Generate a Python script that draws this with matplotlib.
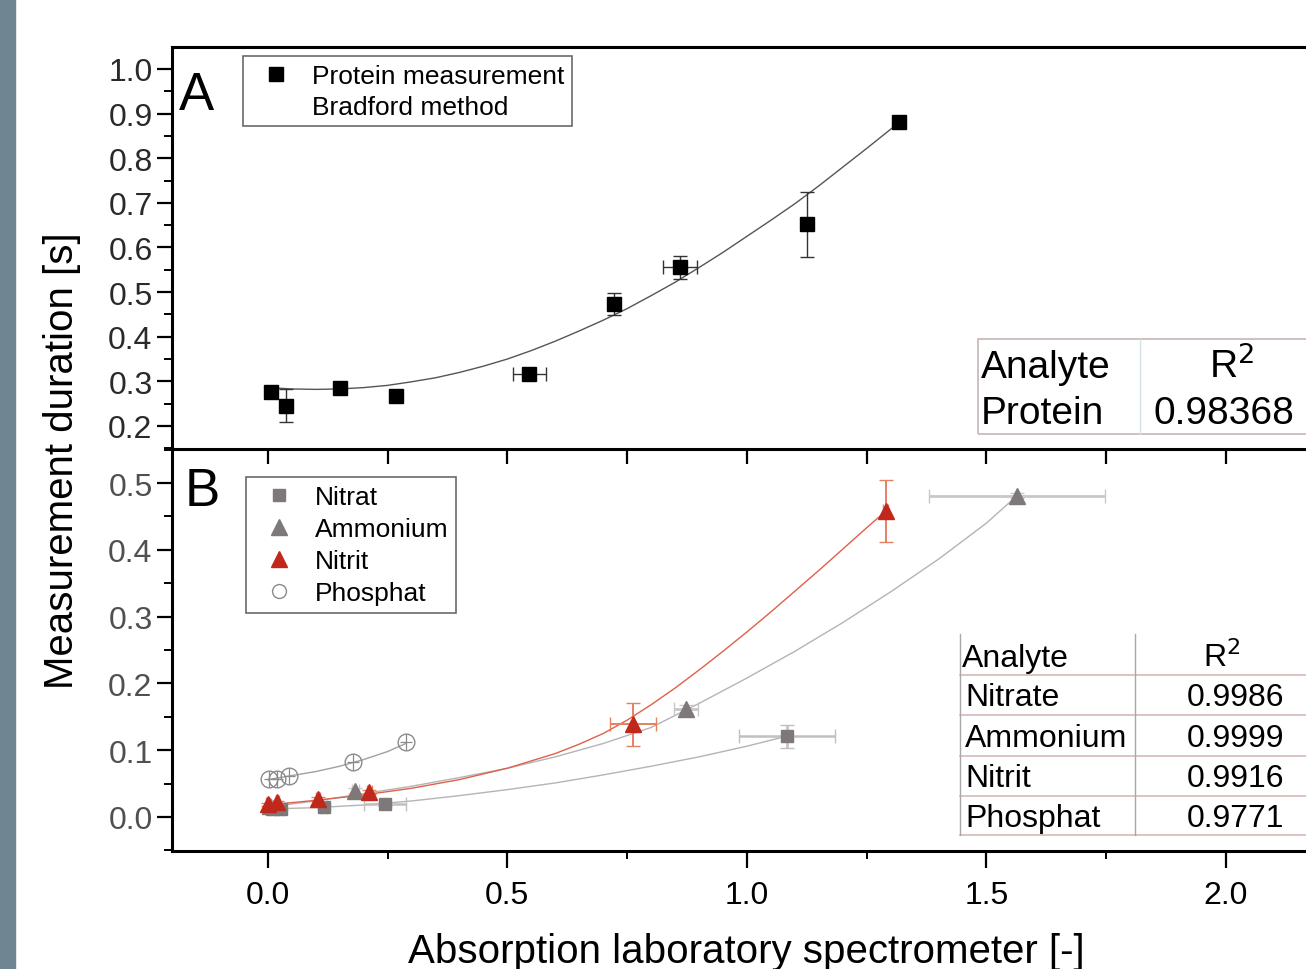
import matplotlib.pyplot as plt
from matplotlib.lines import Line2D
from matplotlib.patches import Rectangle
from matplotlib.ticker import MultipleLocator

plt.rcParams['font.family'] = ['Liberation Sans', 'DejaVu Sans']

# --- panel A: protein (Bradford) ---
prot_x = [0.007, 0.038, 0.150, 0.267, 0.546, 0.722, 0.860, 1.125, 1.317]
prot_y = [0.276, 0.245, 0.285, 0.267, 0.317, 0.474, 0.556, 0.652, 0.882]
prot_xerr = [0.005, 0.005, 0.005, 0.005, 0.035, 0.005, 0.036, 0.005, 0.008]
prot_yerr = [0.005, 0.037, 0.006, 0.006, 0.008, 0.025, 0.026, 0.073, 0.008]
prot_fit_x = [0.0, 0.05, 0.1, 0.15, 0.2, 0.25, 0.3, 0.35, 0.4, 0.45, 0.5, 0.55, 0.6, 0.65,
              0.7, 0.75, 0.8, 0.85, 0.9, 0.95, 1.0, 1.05, 1.1, 1.15, 1.2, 1.25, 1.3, 1.317]
prot_fit_y = [0.286, 0.283, 0.282, 0.283, 0.286, 0.291, 0.299, 0.308, 0.320, 0.334, 0.350,
              0.369, 0.390, 0.413, 0.437, 0.463, 0.492, 0.522, 0.555, 0.589, 0.625, 0.661,
              0.698, 0.738, 0.780, 0.822, 0.865, 0.880]

# --- panel B: nutrients ---
nitrat_x = [0.008, 0.028, 0.117, 0.244, 1.083]
nitrat_y = [0.012, 0.012, 0.015, 0.019, 0.121]
nitrat_xerr = [0.004, 0.004, 0.006, 0.044, 0.100]
nitrat_yerr = [0.002, 0.002, 0.003, 0.003, 0.017]
nitrat_fit_x = [0.0, 0.1, 0.2, 0.3, 0.4, 0.5, 0.6, 0.7, 0.8, 0.9, 1.0, 1.083]
nitrat_fit_y = [0.012, 0.014, 0.018, 0.024, 0.032, 0.041, 0.051, 0.063, 0.076, 0.090, 0.106, 0.121]

ammon_x = [0.005, 0.022, 0.183, 0.873, 1.564]
ammon_y = [0.016, 0.018, 0.039, 0.162, 0.481]
ammon_xerr = [0.004, 0.004, 0.008, 0.025, 0.183]
ammon_yerr = [0.002, 0.002, 0.004, 0.006, 0.004]
ammon_fit_x = [0.0, 0.1, 0.2, 0.3, 0.4, 0.5, 0.6, 0.7, 0.8, 0.9, 1.0, 1.1, 1.2, 1.3, 1.4,
               1.5, 1.564]
ammon_fit_y = [0.015, 0.024, 0.035, 0.046, 0.059, 0.073, 0.090, 0.110, 0.134, 0.170, 0.208,
               0.248, 0.291, 0.337, 0.386, 0.440, 0.481]

nitrit_x = [0.0, 0.02, 0.104, 0.212, 0.763, 1.290]
nitrit_y = [0.019, 0.022, 0.027, 0.037, 0.139, 0.458]
nitrit_xerr = [0.003, 0.003, 0.004, 0.005, 0.048, 0.005]
nitrit_yerr = [0.002, 0.002, 0.003, 0.003, 0.032, 0.046]
nitrit_fit_x = [0.0, 0.1, 0.2, 0.3, 0.4, 0.5, 0.6, 0.65, 0.7, 0.75, 0.8, 0.85, 0.9, 0.95,
                1.0, 1.05, 1.1, 1.15, 1.2, 1.25, 1.29]
nitrit_fit_y = [0.018, 0.025, 0.033, 0.043, 0.056, 0.073, 0.095, 0.109, 0.125, 0.145, 0.168,
                0.193, 0.220, 0.248, 0.277, 0.307, 0.338, 0.369, 0.401, 0.433, 0.458]

phos_x = [0.003, 0.020, 0.045, 0.178, 0.288]
phos_y = [0.057, 0.057, 0.062, 0.082, 0.112]
phos_err = [0.012, 0.012, 0.012, 0.012, 0.012]
phos_fit_x = [0.0, 0.05, 0.1, 0.15, 0.2, 0.25, 0.288]
phos_fit_y = [0.056, 0.062, 0.068, 0.076, 0.086, 0.098, 0.110]

table_a = [["Analyte", "R$^2$"], ["Protein", "0.98368"]]
table_b_names = ["Nitrate", "Ammonium", "Nitrit", "Phosphat"]
table_b_r2 = ["0.9986", "0.9999", "0.9916", "0.9771"]

W, H = 1306, 970
fig = plt.figure(figsize=(W / 100, H / 100), dpi=100)
fig.patches.append(Rectangle((0, 0), 15 / W, 1, transform=fig.transFigure,
                             color='#6f8591', zorder=0))

L = 172 / W
axA = fig.add_axes([L, 1 - 450 / H, 1 - L, 402 / H])
axB = fig.add_axes([L, 1 - 852 / H, 1 - L, 402 / H])

x_lim = (-0.2, 2.167)
for ax in (axA, axB):
    ax.set_xlim(*x_lim)
    ax.spines['right'].set_visible(False)
    for s in ('left', 'top', 'bottom'):
        ax.spines[s].set_linewidth(2.2)
    ax.tick_params(axis='y', which='major', direction='out', length=11, width=1.6,
                   labelsize=23, pad=3)
    ax.tick_params(axis='y', which='minor', direction='out', length=6, width=1.4)
    ax.yaxis.set_minor_locator(MultipleLocator(0.05))
    ax.xaxis.set_major_locator(MultipleLocator(0.5))
    ax.xaxis.set_minor_locator(MultipleLocator(0.25))

axA.set_ylim(0.1484, 1.0493)
axA.yaxis.set_major_locator(MultipleLocator(0.1))
axA.tick_params(axis='x', which='both', bottom=False, labelbottom=False)
axA.tick_params(axis='y', labelcolor='#2a2a2a')
axA.spines['bottom'].set_visible(False)

axB.set_ylim(-0.0509, 0.5509)
axB.yaxis.set_major_locator(MultipleLocator(0.1))
axB.tick_params(axis='y', labelcolor='#505050')
axB.tick_params(axis='x', which='major', direction='out', length=12, width=1.6,
                labelsize=23, pad=9, top=False)
axB.tick_params(axis='x', which='minor', direction='out', length=6, width=1.4, top=False)
# inward ticks on top of panel B
sec = axB.secondary_xaxis('top')
sec.xaxis.set_major_locator(MultipleLocator(0.25))
sec.tick_params(axis='x', direction='in', length=11, width=1.6, labeltop=False)
sec.spines['top'].set_visible(False)

# panel A
axA.plot(prot_fit_x, prot_fit_y, color='#555555', lw=1.0, zorder=2)
axA.errorbar(prot_x, prot_y, xerr=prot_xerr, yerr=prot_yerr, fmt='s', color='black',
             ms=10, ecolor='#333333', elinewidth=1.0, capsize=5, zorder=3)
fig.text(179 / W, 1 - 110 / H, 'A', fontsize=38)
fig.text(185 / W, 1 - 506 / H, 'B', fontsize=38)

hA = [Line2D([], [], marker='s', ls='', color='black', ms=10),
      Line2D([], [], ls='', marker='')]
legA = axA.legend(hA, ['Protein measurement', 'Bradford method'], loc='upper left',
                  bbox_to_anchor=((243 - 172) / (W - 172), 1 - 9 / 402),
                  fontsize=19, frameon=True, fancybox=False, edgecolor='#444444',
                  handlelength=1.9, handletextpad=0.4, labelspacing=0.25,
                  borderpad=0.3, borderaxespad=0)
legA.get_frame().set_linewidth(1.2)


def box(x0, y0, x1, y1, **kw):
    fig.add_artist(Rectangle((x0 / W, 1 - y1 / H), (x1 - x0) / W, (y1 - y0) / H,
                             transform=fig.transFigure, fill=False, **kw))


# panel A table
box(978, 340, 1320, 435, edgecolor='#c8b4b4', lw=1.2)
fig.add_artist(Line2D([1140 / W, 1140 / W], [1 - 340 / H, 1 - 435 / H], color='#d4e4e8', lw=1))
fig.text(981 / W, 1 - 378 / H, table_a[0][0], fontsize=28)
fig.text(1232 / W, 1 - 378 / H, table_a[0][1], fontsize=28, ha='center')
fig.text(981 / W, 1 - 424 / H, table_a[1][0], fontsize=28)
fig.text(1224 / W, 1 - 424 / H, table_a[1][1], fontsize=28, ha='center')

# panel B
light = '#b4b4b4'
axB.plot(nitrat_fit_x, nitrat_fit_y, color=light, lw=1.0, zorder=2)
axB.plot(ammon_fit_x, ammon_fit_y, color=light, lw=1.0, zorder=2)
axB.plot(phos_fit_x, phos_fit_y, color='#a0a0a0', lw=1.0, zorder=2)
axB.plot(nitrit_fit_x, nitrit_fit_y, color='#e0604a', lw=1.0, zorder=2)

axB.errorbar(phos_x, phos_y, xerr=phos_err, yerr=phos_err, fmt='o', mfc='none',
             mec='#8a8a8a', ms=12, ecolor='#8a8a8a', elinewidth=0.9, zorder=3)
axB.errorbar(nitrat_x, nitrat_y, xerr=nitrat_xerr, yerr=nitrat_yerr, fmt='s', color='#7e7878',
             ms=9, ecolor='#c0c0c0', elinewidth=1.8, capsize=5, zorder=3)
axB.errorbar(ammon_x, ammon_y, xerr=ammon_xerr, yerr=ammon_yerr, fmt='^', color='#7e7878',
             ms=12, ecolor='#c8c8c8', elinewidth=2.0, capsize=5, zorder=3)
axB.errorbar(nitrit_x, nitrit_y, xerr=nitrit_xerr, yerr=nitrit_yerr, fmt='^', color='#c0281b',
             ms=12, ecolor='#e58060', elinewidth=1.4, capsize=5, zorder=4)

hB = [Line2D([], [], marker='s', ls='', color='#7e7878', ms=9),
      Line2D([], [], marker='^', ls='', color='#7e7878', ms=12),
      Line2D([], [], marker='^', ls='', color='#c0281b', ms=12),
      Line2D([], [], marker='o', ls='', mfc='white', mec='#8a8a8a', ms=10)]
legB = axB.legend(hB, ['Nitrat', 'Ammonium', 'Nitrit', 'Phosphat'], loc='upper left',
                  bbox_to_anchor=((246 - 172) / (W - 172), 1 - 28 / 402),
                  fontsize=19, frameon=True, fancybox=False, edgecolor='#444444',
                  handlelength=1.9, handletextpad=0.4, labelspacing=0.31,
                  borderpad=0.3, borderaxespad=0)
legB.get_frame().set_linewidth(1.2)

# panel B table
row_lines = [676, 716, 757, 797, 836]
for yl in row_lines:
    fig.add_artist(Line2D([960 / W, 1], [1 - yl / H, 1 - yl / H], color='#d8b8b8', lw=1.2))
for xl in (960, 1135):
    fig.add_artist(Line2D([xl / W, xl / W], [1 - 635 / H, 1 - 836 / H], color='#a8a8a8', lw=1.0))
fig.text(962 / W, 1 - 667 / H, 'Analyte', fontsize=23)
fig.text(1222 / W, 1 - 667 / H, 'R$^2$', fontsize=23, ha='center')
row_base = [706, 747, 787, 827]
for name, r2, yb in zip(table_b_names, table_b_r2, row_base):
    fig.text(965 / W, 1 - yb / H, name, fontsize=23)
    fig.text(1236 / W, 1 - yb / H, r2, fontsize=23, ha='center')

fig.text(62 / W, 1 - 461 / H, 'Measurement duration [s]', fontsize=29, rotation=90,
         ha='center', va='center')
fig.text(746 / W, 1 - 963 / H, 'Absorption laboratory spectrometer [-]', fontsize=29,
         ha='center', va='baseline')

fig.savefig('out.png', dpi=100)
